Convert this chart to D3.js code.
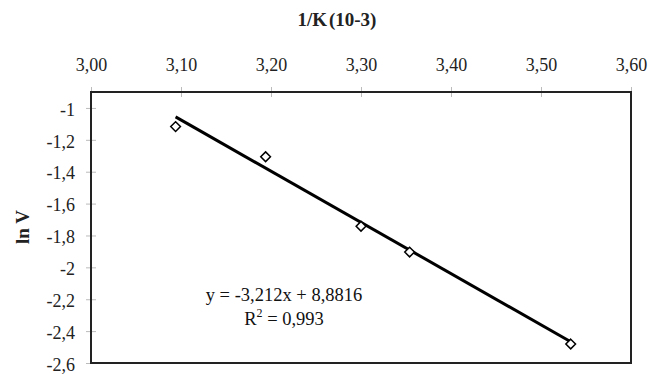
<!DOCTYPE html>
<html><head><meta charset="utf-8">
<script src="https://cdn.jsdelivr.net/npm/d3@7"></script>
<style>body{margin:0;background:#fff}svg{display:block}</style>
</head><body>
<script>
const xValues = [3.094, 3.194, 3.300, 3.354, 3.533];
const yValues = [-1.117, -1.306, -1.742, -1.904, -2.481];
const xTicks = [3.0, 3.1, 3.2, 3.3, 3.4, 3.5, 3.6];
const yTicks = [-1, -1.2, -1.4, -1.6, -1.8, -2, -2.2, -2.4, -2.6];
const slope = -3.212, intercept = 8.8816;
const eqText = "y = -3,212x + 8,8816";
const r2Text = "0,993";

const W = 659, H = 374;
const m = {left: 91, right: 28, top: 92, bottom: 11};
const svg = d3.select("body").append("svg").attr("width", W).attr("height", H);
const x = d3.scaleLinear().domain([3.0, 3.6]).range([m.left, W - m.right]);
const y = d3.scaleLinear().domain([-2.6, -0.9]).range([H - m.bottom, m.top]);
const font = "'Liberation Serif', 'Times New Roman', serif";
const fmtX = d => d3.format(".2f")(d).replace(".", ",");
const fmtY = d => String(+d.toFixed(1)).replace(".", ",");

// top axis
const gx = svg.append("g").attr("transform", `translate(0,${m.top})`)
  .call(d3.axisTop(x).tickValues(xTicks).tickFormat(fmtX).tickSize(5).tickPadding(16));
gx.select(".domain").remove();
gx.selectAll(".tick line").attr("stroke", "#bbb").attr("y2", 5).attr("y1", -5);
gx.selectAll("text").attr("font-family", font).attr("font-size", 18).attr("fill", "#222");

// left axis
const gy = svg.append("g").attr("transform", `translate(${m.left},0)`)
  .call(d3.axisLeft(y).tickValues(yTicks).tickFormat(fmtY).tickSize(5).tickPadding(11));
gy.select(".domain").remove();
gy.selectAll(".tick line").attr("stroke", "#bbb").attr("x2", 5).attr("x1", -5);
gy.selectAll("text").attr("font-family", font).attr("font-size", 18).attr("fill", "#222").attr("dy", "0.4em");

// frame
svg.append("rect").attr("x", m.left).attr("y", m.top)
  .attr("width", W - m.right - m.left).attr("height", H - m.bottom - m.top)
  .attr("fill", "none").attr("stroke", "#222").attr("stroke-width", 2);

// trendline
const xs = d3.extent(xValues);
svg.append("line")
  .attr("x1", x(xs[0])).attr("y1", y(slope * xs[0] + intercept))
  .attr("x2", x(xs[1])).attr("y2", y(slope * xs[1] + intercept))
  .attr("stroke", "#000").attr("stroke-width", 3);

// markers
const sym = d3.symbol().type(d3.symbolDiamond2).size(60);
svg.selectAll("path.pt").data(xValues).join("path").attr("class", "pt")
  .attr("d", sym)
  .attr("transform", (d, i) => `translate(${x(d)},${y(yValues[i])})`)
  .attr("fill", "#fff").attr("stroke", "#000").attr("stroke-width", 1.5);

// titles
svg.append("text").attr("x", 337).attr("y", 26).attr("text-anchor", "middle")
  .attr("font-family", font).attr("font-weight", "bold").attr("font-size", 19).attr("fill", "#222")
  .attr("word-spacing", -3)
  .text("1/K (10-3)");
svg.append("text").attr("transform", "translate(29,227) rotate(-90)").attr("text-anchor", "middle")
  .attr("font-family", font).attr("font-weight", "bold").attr("font-size", 19).attr("fill", "#222")
  .text("ln V");

// equation
svg.append("text").attr("x", 284).attr("y", 301).attr("text-anchor", "middle")
  .attr("font-family", font).attr("font-size", 18.5).attr("fill", "#111").text(eqText);
const r2 = svg.append("text").attr("x", 284).attr("y", 325).attr("text-anchor", "middle")
  .attr("font-family", font).attr("font-size", 18.5).attr("fill", "#111");
r2.append("tspan").text("R");
r2.append("tspan").attr("dy", -8).attr("font-size", 12).text("2");
r2.append("tspan").attr("dy", 8).text(" = " + r2Text);
</script>
</body></html>
